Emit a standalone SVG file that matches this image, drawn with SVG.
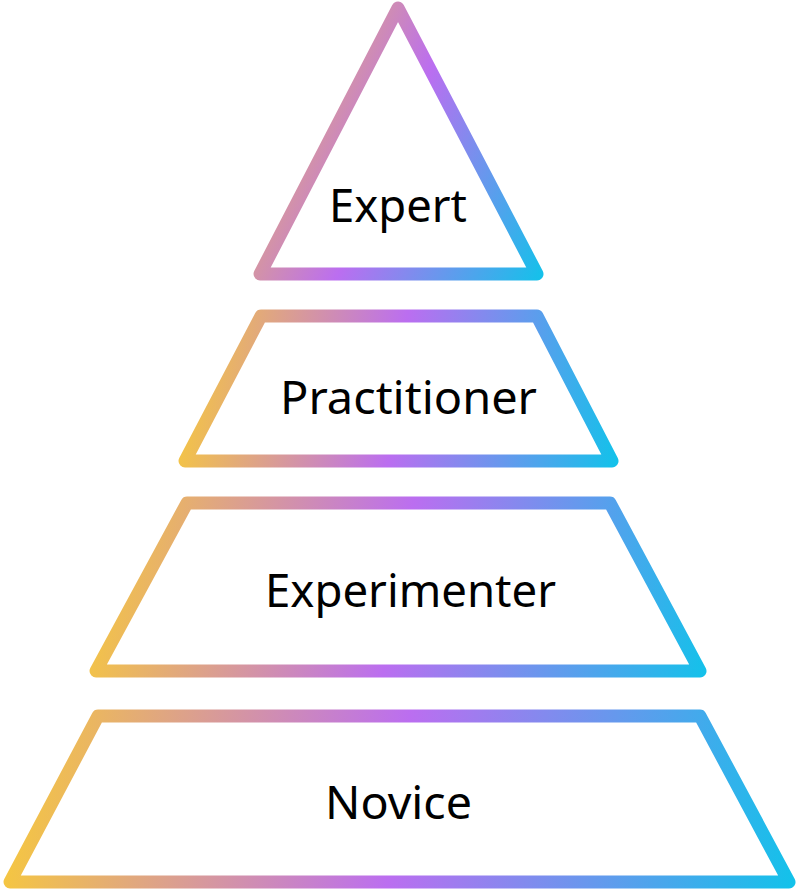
<svg xmlns="http://www.w3.org/2000/svg" width="797" height="891" viewBox="0 0 797 891">
  <style>
    .tier { fill: #ffffff; stroke-width: 13; stroke-linejoin: round; stroke-linecap: round; }
    .label { font-family: "Noto Sans", "Liberation Sans", Arial, sans-serif; font-size: 46px; fill: #000000; text-anchor: middle; }
  </style>
  <defs>
    <linearGradient id="gExpert" gradientUnits="userSpaceOnUse" x1="253" y1="1" x2="599" y2="157">
      <stop offset="0" stop-color="#f8cb38"/>
      <stop offset="0.5" stop-color="#bb6ef0"/>
      <stop offset="1" stop-color="#12c2ea"/>
    </linearGradient>
    <linearGradient id="gPract" gradientUnits="userSpaceOnUse" x1="178" y1="310" x2="630" y2="370">
      <stop offset="0" stop-color="#f8cb38"/>
      <stop offset="0.5" stop-color="#bb6ef0"/>
      <stop offset="1" stop-color="#12c2ea"/>
    </linearGradient>
    <linearGradient id="gExper" gradientUnits="userSpaceOnUse" x1="88" y1="497" x2="721" y2="609">
      <stop offset="0" stop-color="#f8cb38"/>
      <stop offset="0.5" stop-color="#bb6ef0"/>
      <stop offset="1" stop-color="#12c2ea"/>
    </linearGradient>
    <linearGradient id="gNovice" gradientUnits="userSpaceOnUse" x1="3" y1="710" x2="804" y2="816">
      <stop offset="0" stop-color="#f8cb38"/>
      <stop offset="0.5" stop-color="#bb6ef0"/>
      <stop offset="1" stop-color="#12c2ea"/>
    </linearGradient>
  </defs>
  <rect width="797" height="891" fill="#ffffff"/>
  <g id="connectors"></g>
  <g id="expert">
    <polygon class="tier" stroke="url(#gExpert)" points="398,8 537,274 260,274"/>
    <text class="label" x="398" y="222" textLength="138" lengthAdjust="spacingAndGlyphs">Expert</text>
  </g>
  <g id="practitioner">
    <polygon class="tier" stroke="url(#gPract)" points="261,316 537,316 612,461 185,461"/>
    <text class="label" x="408.5" y="414" textLength="257" lengthAdjust="spacingAndGlyphs">Practitioner</text>
  </g>
  <g id="experimenter">
    <polygon class="tier" stroke="url(#gExper)" points="187,503 610,503 700,671 96,671"/>
    <text class="label" x="410.5" y="607" textLength="291" lengthAdjust="spacingAndGlyphs">Experimenter</text>
  </g>
  <g id="novice">
    <polygon class="tier" stroke="url(#gNovice)" points="98,716 700,716 789,882 10,882"/>
    <text class="label" x="398.5" y="819" textLength="147" lengthAdjust="spacingAndGlyphs">Novice</text>
  </g>
</svg>
